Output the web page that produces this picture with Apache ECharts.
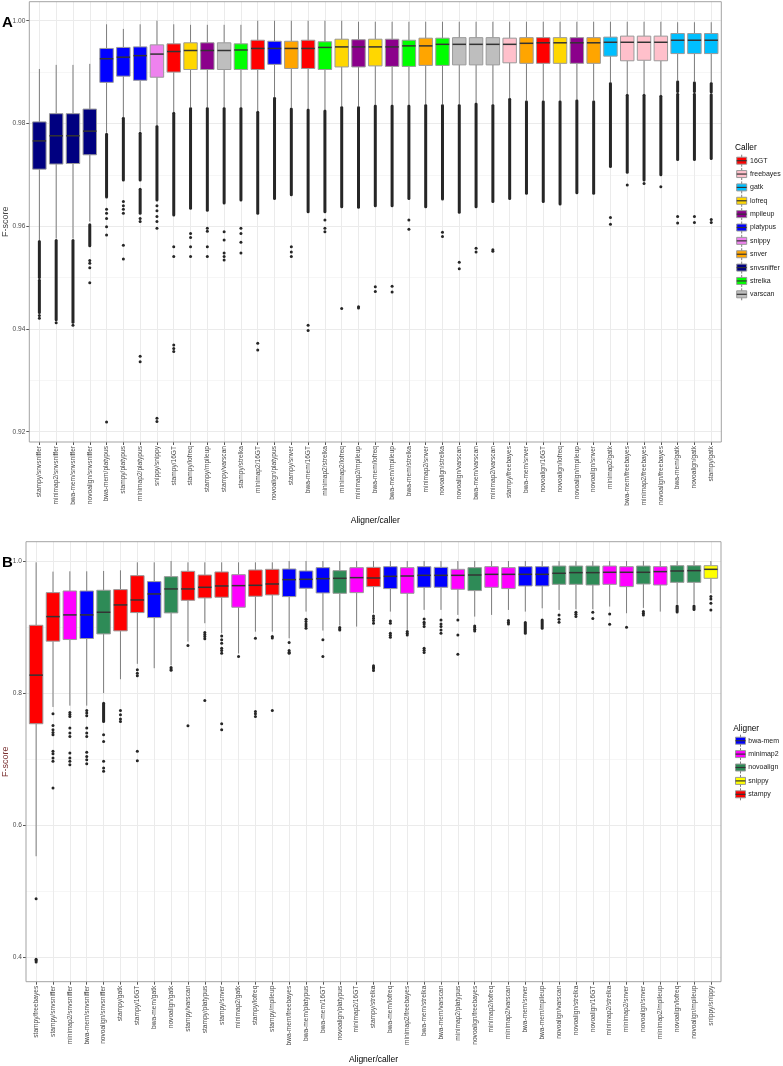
<!DOCTYPE html>
<html><head><meta charset="utf-8">
<script src="https://cdn.jsdelivr.net/npm/echarts@6/dist/echarts.min.js"></script>
<style>html,body{margin:0;padding:0;background:#fff}#c{width:783px;height:1066px}</style>
</head><body><div id="c"></div>
<script>
// ---------------- Panel A data ----------------
const catsA = ['stampy/snvsniffer','minimap2/snvsniffer','bwa-mem/snvsniffer','novoalign/snvsniffer','bwa-mem/platypus','stampy/platypus','minimap2/platypus','snippy/snippy','stampy/16GT','stampy/lofreq','stampy/mpileup','stampy/varscan','stampy/strelka','minimap2/16GT','novoalign/platypus','stampy/snver','bwa-mem/16GT','minimap2/strelka','minimap2/lofreq','minimap2/mpileup','bwa-mem/lofreq','bwa-mem/mpileup','bwa-mem/strelka','minimap2/snver','novoalign/strelka','novoalign/varscan','bwa-mem/varscan','minimap2/varscan','stampy/freebayes','bwa-mem/snver','novoalign/16GT','novoalign/lofreq','novoalign/mpileup','novoalign/snver','minimap2/gatk','bwa-mem/freebayes','minimap2/freebayes','novoalign/freebayes','bwa-mem/gatk','novoalign/gatk','stampy/gatk'];
const lowA  = [0.9573,0.9576,0.9576,0.9609,0.9782,0.9812,0.9784,0.9796,0.9822,0.9831,0.9831,0.9831,0.9831,0.9824,0.9851,0.9830,0.9828,0.9826,0.9833,0.9833,0.9836,0.9836,0.9836,0.9837,0.9837,0.9837,0.9840,0.9837,0.9849,0.9844,0.9844,0.9844,0.9846,0.9844,0.9880,0.9857,0.9857,0.9855,0.9883,0.9881,0.9880];
const q1A   = [0.9711,0.9721,0.9722,0.9739,0.9880,0.9892,0.9884,0.9890,0.9900,0.9905,0.9905,0.9905,0.9905,0.9905,0.9915,0.9907,0.9907,0.9905,0.9910,0.9910,0.9912,0.9911,0.9911,0.9913,0.9913,0.9914,0.9914,0.9914,0.9918,0.9917,0.9917,0.9917,0.9917,0.9917,0.9931,0.9922,0.9923,0.9922,0.9936,0.9936,0.9936];
const medA  = [0.9766,0.9776,0.9776,0.9785,0.9926,0.9929,0.9932,0.9935,0.9940,0.9942,0.9942,0.9942,0.9943,0.9946,0.9946,0.9946,0.9946,0.9948,0.9949,0.9949,0.9949,0.9949,0.9951,0.9951,0.9954,0.9954,0.9954,0.9954,0.9954,0.9956,0.9957,0.9957,0.9957,0.9957,0.9958,0.9958,0.9958,0.9958,0.9962,0.9962,0.9962];
const q3A   = [0.9803,0.9819,0.9819,0.9828,0.9946,0.9948,0.9949,0.9953,0.9955,0.9957,0.9957,0.9957,0.9955,0.9962,0.9960,0.9960,0.9962,0.9959,0.9964,0.9963,0.9964,0.9964,0.9962,0.9966,0.9966,0.9967,0.9967,0.9967,0.9966,0.9967,0.9967,0.9967,0.9967,0.9967,0.9968,0.9970,0.9970,0.9970,0.9975,0.9975,0.9975];
const highA = [0.9906,0.9914,0.9914,0.9916,0.9993,0.9984,0.9993,1.0000,0.9993,0.9992,0.9992,0.9992,0.9992,1.0000,1.0000,1.0000,1.0000,1.0000,1.0000,0.9998,0.9998,0.9998,0.9998,0.9998,0.9998,0.9998,0.9998,0.9998,0.9998,0.9998,0.9998,0.9998,0.9998,0.9998,0.9998,0.9998,0.9998,0.9998,0.9997,0.9997,0.9997];
// dense outlier columns: [category, from, to]
const runsA = [
['stampy/snvsniffer',0.9500,0.9570],['stampy/snvsniffer',0.9432,0.9495],
['minimap2/snvsniffer',0.9418,0.9572],['bwa-mem/snvsniffer',0.9413,0.9572],
['novoalign/snvsniffer',0.9562,0.9603],['bwa-mem/platypus',0.9657,0.9779],
['stampy/platypus',0.9690,0.9810],['minimap2/platypus',0.9690,0.9781],['minimap2/platypus',0.9625,0.9672],
['snippy/snippy',0.9651,0.9794],['stampy/16GT',0.9622,0.9820],['stampy/lofreq',0.9635,0.9829],
['stampy/mpileup',0.9631,0.9829],['stampy/varscan',0.9645,0.9829],['stampy/strelka',0.9651,0.9829],
['minimap2/16GT',0.9625,0.9822],['novoalign/platypus',0.9654,0.9849],['stampy/snver',0.9661,0.9828],
['bwa-mem/16GT',0.9628,0.9826],['minimap2/strelka',0.9628,0.9824],['minimap2/lofreq',0.9638,0.9831],
['minimap2/mpileup',0.9637,0.9831],['bwa-mem/lofreq',0.9640,0.9834],['bwa-mem/mpileup',0.9640,0.9834],
['bwa-mem/strelka',0.9654,0.9834],['minimap2/snver',0.9638,0.9835],['novoalign/strelka',0.9653,0.9835],
['novoalign/varscan',0.9627,0.9835],['bwa-mem/varscan',0.9638,0.9838],['minimap2/varscan',0.9648,0.9835],
['stampy/freebayes',0.9654,0.9847],['bwa-mem/snver',0.9664,0.9842],['novoalign/16GT',0.9648,0.9842],
['novoalign/lofreq',0.9643,0.9842],['novoalign/mpileup',0.9665,0.9844],['novoalign/snver',0.9664,0.9842],
['minimap2/gatk',0.9716,0.9878],['bwa-mem/freebayes',0.9705,0.9855],['minimap2/freebayes',0.9690,0.9855],
['novoalign/freebayes',0.9700,0.9853],['bwa-mem/gatk',0.9730,0.9857],['bwa-mem/gatk',0.9862,0.9881],
['novoalign/gatk',0.9730,0.9857],['novoalign/gatk',0.9862,0.9879],['stampy/gatk',0.9732,0.9856],['stampy/gatk',0.9861,0.9878]
];
// single outliers: [category, value]
const ptsA = [
['stampy/snvsniffer',0.9421],['stampy/snvsniffer',0.9426],['minimap2/snvsniffer',0.9412],['bwa-mem/snvsniffer',0.9407],
['novoalign/snvsniffer',0.9533],['novoalign/snvsniffer',0.9528],['novoalign/snvsniffer',0.9519],['novoalign/snvsniffer',0.9490],
['bwa-mem/platypus',0.9633],['bwa-mem/platypus',0.9625],['bwa-mem/platypus',0.9615],['bwa-mem/platypus',0.9599],['bwa-mem/platypus',0.9583],['bwa-mem/platypus',0.9219],
['stampy/platypus',0.9648],['stampy/platypus',0.9640],['stampy/platypus',0.9633],['stampy/platypus',0.9625],['stampy/platypus',0.9563],['stampy/platypus',0.9536],
['minimap2/platypus',0.9615],['minimap2/platypus',0.9609],['minimap2/platypus',0.9347],['minimap2/platypus',0.9336],
['snippy/snippy',0.9640],['snippy/snippy',0.9630],['snippy/snippy',0.9619],['snippy/snippy',0.9609],['snippy/snippy',0.9596],['snippy/snippy',0.9226],['snippy/snippy',0.9220],
['stampy/16GT',0.9560],['stampy/16GT',0.9541],['stampy/16GT',0.9369],['stampy/16GT',0.9362],['stampy/16GT',0.9356],
['stampy/lofreq',0.9586],['stampy/lofreq',0.9578],['stampy/lofreq',0.9560],['stampy/lofreq',0.9541],
['stampy/mpileup',0.9596],['stampy/mpileup',0.9590],['stampy/mpileup',0.9560],['stampy/mpileup',0.9541],
['stampy/varscan',0.9589],['stampy/varscan',0.9573],['stampy/varscan',0.9548],['stampy/varscan',0.9541],['stampy/varscan',0.9534],
['stampy/strelka',0.9596],['stampy/strelka',0.9586],['stampy/strelka',0.9569],['stampy/strelka',0.9548],
['minimap2/16GT',0.9372],['minimap2/16GT',0.9359],
['stampy/snver',0.9560],['stampy/snver',0.9550],['stampy/snver',0.9541],
['bwa-mem/16GT',0.9407],['bwa-mem/16GT',0.9397],
['minimap2/strelka',0.9612],['minimap2/strelka',0.9596],['minimap2/strelka',0.9589],
['minimap2/lofreq',0.9440],['minimap2/mpileup',0.9443],['minimap2/mpileup',0.9441],
['bwa-mem/lofreq',0.9482],['bwa-mem/lofreq',0.9473],['bwa-mem/mpileup',0.9483],['bwa-mem/mpileup',0.9472],
['bwa-mem/strelka',0.9612],['bwa-mem/strelka',0.9594],['novoalign/strelka',0.9588],['novoalign/strelka',0.9580],
['novoalign/varscan',0.9530],['novoalign/varscan',0.9517],['bwa-mem/varscan',0.9557],['bwa-mem/varscan',0.9550],
['minimap2/varscan',0.9554],['minimap2/varscan',0.9551],['minimap2/gatk',0.9617],['minimap2/gatk',0.9604],
['bwa-mem/freebayes',0.9680],['minimap2/freebayes',0.9683],['novoalign/freebayes',0.9677],
['bwa-mem/gatk',0.9619],['bwa-mem/gatk',0.9606],['novoalign/gatk',0.9619],['novoalign/gatk',0.9607],
['stampy/gatk',0.9613],['stampy/gatk',0.9607]
];
const callers = ['16GT','freebayes','gatk','lofreq','mpileup','platypus','snippy','snver','snvsniffer','strelka','varscan'];
const callerColors = ['#FF0000','#FFC0CB','#00BFFF','#FFD700','#8B008B','#0000FF','#EE82EE','#FFA500','#000080','#00FF00','#BEBEBE'];
const yTicksA = {min:0.92, max:1.00, step:0.02};

// ---------------- Panel B data ----------------
const catsB = ['stampy/freebayes','stampy/snvsniffer','minimap2/snvsniffer','bwa-mem/snvsniffer','novoalign/snvsniffer','stampy/gatk','stampy/16GT','bwa-mem/gatk','novoalign/gatk','stampy/varscan','stampy/platypus','stampy/snver','minimap2/gatk','stampy/lofreq','stampy/mpileup','bwa-mem/freebayes','bwa-mem/platypus','bwa-mem/16GT','novoalign/platypus','minimap2/16GT','stampy/strelka','bwa-mem/lofreq','minimap2/freebayes','bwa-mem/strelka','bwa-mem/varscan','minimap2/platypus','novoalign/freebayes','minimap2/lofreq','minimap2/varscan','bwa-mem/snver','bwa-mem/mpileup','novoalign/varscan','novoalign/strelka','novoalign/16GT','minimap2/strelka','minimap2/snver','novoalign/snver','minimap2/mpileup','novoalign/lofreq','novoalign/mpileup','snippy/snippy'];
const lowB  = [0.553,0.779,0.781,0.781,0.800,0.821,0.8443,0.8377,0.8420,0.878,0.9058,0.8907,0.8600,0.8930,0.8930,0.8830,0.9234,0.8947,0.9022,0.9007,0.9209,0.9234,0.8957,0.9260,0.9260,0.9184,0.9158,0.9184,0.9259,0.9234,0.9284,0.9259,0.9269,0.9269,0.9310,0.9209,0.9290,0.9234,0.9350,0.9350,0.9511];
const q1B   = [0.7536,0.8786,0.8811,0.8826,0.8896,0.8942,0.9219,0.9143,0.9214,0.9405,0.9441,0.9451,0.9300,0.9466,0.9486,0.9461,0.9587,0.9516,0.9511,0.9521,0.9612,0.9582,0.9511,0.9602,0.9602,0.9572,0.9552,0.9602,0.9582,0.9622,0.9622,0.9647,0.9647,0.9637,0.9647,0.9612,0.9652,0.9637,0.9677,0.9677,0.9738];
const medB  = [0.8272,0.9158,0.9184,0.9184,0.9224,0.9335,0.9410,0.9501,0.9577,0.9577,0.9602,0.9622,0.9627,0.9632,0.9652,0.9718,0.9723,0.9733,0.9738,0.9748,0.9743,0.9768,0.9773,0.9783,0.9783,0.9783,0.9788,0.9798,0.9798,0.9798,0.9798,0.9814,0.9824,0.9824,0.9829,0.9829,0.9829,0.9839,0.9849,0.9854,0.9874];
const q3B   = [0.9027,0.9521,0.9546,0.9546,0.9557,0.9567,0.9778,0.9688,0.9763,0.9844,0.9788,0.9834,0.9793,0.9864,0.9874,0.9879,0.9849,0.9899,0.9854,0.9899,0.9904,0.9914,0.9899,0.9914,0.9904,0.9874,0.9899,0.9914,0.9899,0.9914,0.9914,0.9924,0.9924,0.9924,0.9924,0.9914,0.9924,0.9914,0.9929,0.9929,0.9929];
const highB = [0.998,0.9839,0.9844,0.9844,0.9849,0.9859,0.998,0.998,1.0,0.998,0.998,0.998,0.998,0.998,0.998,1.0,1.0,1.0,1.0,1.0,1.0,1.0,1.0,1.0,1.0,1.0,1.0,1.0,1.0,1.0,1.0,1.0,1.0,1.0,1.0,1.0,1.0,1.0,1.0,1.0,1.0];
const runsB = [
['novoalign/snvsniffer',0.7571,0.7848],['bwa-mem/snver',0.8907,0.9068],['bwa-mem/mpileup',0.8982,0.9108],
['novoalign/lofreq',0.9229,0.9320],['novoalign/mpileup',0.9264,0.9320]
];
const ptsB = [
['stampy/freebayes',0.4886],['stampy/freebayes',0.3970],['stampy/freebayes',0.3950],['stampy/freebayes',0.3930],
['stampy/snvsniffer',0.7687],['stampy/snvsniffer',0.7511],['stampy/snvsniffer',0.7446],['stampy/snvsniffer',0.7405],['stampy/snvsniffer',0.7370],['stampy/snvsniffer',0.7118],['stampy/snvsniffer',0.7083],['stampy/snvsniffer',0.7017],['stampy/snvsniffer',0.6967],['stampy/snvsniffer',0.6563],
['minimap2/snvsniffer',0.7707],['minimap2/snvsniffer',0.7677],['minimap2/snvsniffer',0.7647],['minimap2/snvsniffer',0.7470],['minimap2/snvsniffer',0.7395],['minimap2/snvsniffer',0.7344],['minimap2/snvsniffer',0.7093],['minimap2/snvsniffer',0.7017],['minimap2/snvsniffer',0.6967],['minimap2/snvsniffer',0.6916],
['bwa-mem/snvsniffer',0.7737],['bwa-mem/snvsniffer',0.7697],['bwa-mem/snvsniffer',0.7657],['bwa-mem/snvsniffer',0.7470],['bwa-mem/snvsniffer',0.7395],['bwa-mem/snvsniffer',0.7344],['bwa-mem/snvsniffer',0.7103],['bwa-mem/snvsniffer',0.7042],['bwa-mem/snvsniffer',0.6992],['bwa-mem/snvsniffer',0.6931],
['novoalign/snvsniffer',0.7370],['novoalign/snvsniffer',0.7269],['novoalign/snvsniffer',0.6967],['novoalign/snvsniffer',0.6866],['novoalign/snvsniffer',0.6815],
['stampy/gatk',0.7737],['stampy/gatk',0.7672],['stampy/gatk',0.7606],['stampy/gatk',0.7571],
['stampy/16GT',0.8352],['stampy/16GT',0.8302],['stampy/16GT',0.8262],['stampy/16GT',0.7118],['stampy/16GT',0.6977],
['novoalign/gatk',0.8388],['novoalign/gatk',0.8365],['novoalign/gatk',0.8345],
['stampy/varscan',0.8720],['stampy/varscan',0.7506],
['stampy/platypus',0.8917],['stampy/platypus',0.8887],['stampy/platypus',0.8856],['stampy/platypus',0.8821],['stampy/platypus',0.7889],
['stampy/snver',0.8866],['stampy/snver',0.8806],['stampy/snver',0.8755],['stampy/snver',0.8680],['stampy/snver',0.8645],['stampy/snver',0.8604],['stampy/snver',0.7536],['stampy/snver',0.7446],
['minimap2/gatk',0.8554],
['stampy/lofreq',0.8831],['stampy/lofreq',0.7722],['stampy/lofreq',0.7687],['stampy/lofreq',0.7647],
['stampy/mpileup',0.8856],['stampy/mpileup',0.8836],['stampy/mpileup',0.7737],
['bwa-mem/freebayes',0.8765],['bwa-mem/freebayes',0.8645],['bwa-mem/freebayes',0.8620],['bwa-mem/freebayes',0.8604],
['bwa-mem/platypus',0.9118],['bwa-mem/platypus',0.9083],['bwa-mem/platypus',0.9048],['bwa-mem/platypus',0.9017],['bwa-mem/platypus',0.8982],
['bwa-mem/16GT',0.8806],['bwa-mem/16GT',0.8554],
['novoalign/platypus',0.8992],['novoalign/platypus',0.8972],['novoalign/platypus',0.8957],
['stampy/strelka',0.9169],['stampy/strelka',0.9133],['stampy/strelka',0.9098],['stampy/strelka',0.9058],['stampy/strelka',0.8413],['stampy/strelka',0.8393],['stampy/strelka',0.8372],['stampy/strelka',0.8342],
['bwa-mem/lofreq',0.9093],['bwa-mem/lofreq',0.9058],['bwa-mem/lofreq',0.8907],['bwa-mem/lofreq',0.8876],['bwa-mem/lofreq',0.8846],
['minimap2/freebayes',0.8932],['minimap2/freebayes',0.8907],['minimap2/freebayes',0.8881],
['bwa-mem/strelka',0.9123],['bwa-mem/strelka',0.9073],['bwa-mem/strelka',0.9048],['bwa-mem/strelka',0.9007],['bwa-mem/strelka',0.8680],['bwa-mem/strelka',0.8650],['bwa-mem/strelka',0.8614],
['bwa-mem/varscan',0.9108],['bwa-mem/varscan',0.9048],['bwa-mem/varscan',0.9007],['bwa-mem/varscan',0.8957],['bwa-mem/varscan',0.8907],
['minimap2/platypus',0.9108],['minimap2/platypus',0.8881],['minimap2/platypus',0.8589],
['novoalign/freebayes',0.9017],['novoalign/freebayes',0.8992],['novoalign/freebayes',0.8967],['novoalign/freebayes',0.8942],
['minimap2/varscan',0.9098],['minimap2/varscan',0.9073],['minimap2/varscan',0.9048],
['novoalign/varscan',0.9184],['novoalign/varscan',0.9118],['novoalign/varscan',0.9073],
['novoalign/strelka',0.9224],['novoalign/strelka',0.9194],['novoalign/strelka',0.9158],
['novoalign/16GT',0.9224],['novoalign/16GT',0.9128],
['minimap2/strelka',0.9199],['minimap2/strelka',0.9043],
['minimap2/snver',0.8997],
['novoalign/snver',0.9234],['novoalign/snver',0.9209],['novoalign/snver',0.9184],
['snippy/snippy',0.9461],['snippy/snippy',0.9426],['snippy/snippy',0.9360],['snippy/snippy',0.9259]
];
const aligners = ['bwa-mem','minimap2','novoalign','snippy','stampy'];
const alignerColors = ['#0000FF','#FF00FF','#2E8B57','#FFFF00','#FF0000'];
const yTicksB = {min:0.4, max:1.0, step:0.2};

// ---------------- layout / style ----------------
const FONT = '"Liberation Sans", Arial, sans-serif';
const PA = {L:29.3, R:721.3, T:1.7, B:442, yTop:20.7, yBot:431.7, ticks:yTicksA, dec:2};
const PB = {L:26, R:721, T:541.7, B:981.7, yTop:561, yBot:957.3, ticks:yTicksB, dec:1};
const BOX_STROKE = '#9a9a9a', WHISKER = '#7d7d7d', MEDIAN = '#333333', DOT = '#262626';

function layout(P){
  const band = (P.R - P.L) / 41.2;
  const span = P.ticks.max - P.ticks.min, px = P.yBot - P.yTop;
  return {
    gx: {left: P.L + 0.6 * band, width: 40 * band, top: P.T, height: P.B - P.T},
    gy: {left: P.L, width: P.R - P.L, top: P.yTop, height: px},
    yMin: P.ticks.min - (P.B - P.yBot) / px * span,
    yMax: P.ticks.max + (P.yTop - P.T) / px * span
  };
}
const LA = layout(PA), LB = layout(PB);

function boxData(cats, low, q1, med, q3, high){
  return cats.map((c, i) => [i, low[i], q1[i], med[i], q3[i], high[i]]);
}
function renderBox(colors){
  return function(params, api){
    const i = api.value(0);
    const pLow = api.coord([i, api.value(1)]), pQ1 = api.coord([i, api.value(2)]);
    const pMed = api.coord([i, api.value(3)]), pQ3 = api.coord([i, api.value(4)]);
    const pHigh = api.coord([i, api.value(5)]);
    const bw = api.size([1, 0])[0] * 0.8, x = pLow[0];
    return {type:'group', children:[
      {type:'line', shape:{x1:x, y1:pHigh[1], x2:x, y2:pQ3[1]}, style:{stroke:WHISKER, lineWidth:1}},
      {type:'line', shape:{x1:x, y1:pQ1[1], x2:x, y2:pLow[1]}, style:{stroke:WHISKER, lineWidth:1}},
      {type:'rect', shape:{x:x - bw/2, y:pQ3[1], width:bw, height:pQ1[1] - pQ3[1]}, style:{fill:colors[params.dataIndex], stroke:BOX_STROKE, lineWidth:1}},
      {type:'line', shape:{x1:x - bw/2, y1:pMed[1], x2:x + bw/2, y2:pMed[1]}, style:{stroke:MEDIAN, lineWidth:1.5}}
    ]};
  };
}
function renderRun(params, api){
  const a = api.coord([api.value(0), api.value(1)]), b = api.coord([api.value(0), api.value(2)]);
  return {type:'line', shape:{x1:a[0], y1:a[1], x2:b[0], y2:b[1]}, style:{stroke:DOT, lineWidth:3, lineCap:'round'}};
}
function renderPt(params, api){
  const a = api.coord([api.value(0), api.value(1)]);
  return {type:'circle', shape:{cx:a[0], cy:a[1], r:1.5}, style:{fill:DOT}};
}
const idx = (cats, arr) => arr.map(r => [cats.indexOf(r[0])].concat(r.slice(1)));
const colorsA = catsA.map(c => callerColors[callers.indexOf(c.split('/')[1])]);
const colorsB = catsB.map(c => alignerColors[aligners.indexOf(c.split('/')[0])]);

function catAxis(gi, cats){
  return {type:'category', gridIndex:gi, data:cats, boundaryGap:false,
    axisLine:{show:false},
    axisTick:{show:true, length:3, interval:0, lineStyle:{color:'#555', width:1}},
    axisLabel:{rotate:90, interval:0, fontSize:6.6, color:'#4d4d4d', margin:4, fontFamily:FONT},
    splitLine:{show:true, interval:0, lineStyle:{color:'#ebebeb', width:1}}};
}
function valAxis(gi, P){
  return {type:'value', gridIndex:gi, min:P.ticks.min, max:P.ticks.max, interval:P.ticks.step,
    axisLine:{show:false},
    axisTick:{show:true, length:3, lineStyle:{color:'#555', width:1}},
    axisLabel:{fontSize:6.6, color:'#4d4d4d', margin:4, fontFamily:FONT, formatter:v => v.toFixed(P.dec)},
    splitLine:{show:true, lineStyle:{color:'#ebebeb', width:1}},
    minorTick:{show:false, splitNumber:2},
    minorSplitLine:{show:true, lineStyle:{color:'#f4f4f4', width:0.8}}};
}
const hiddenX = gi => ({type:'value', gridIndex:gi, min:0, max:1, show:false});
const hiddenY = (gi, L) => ({type:'value', gridIndex:gi, min:L.yMin, max:L.yMax, show:false});

function legendGraphic(title, names, colors, P){
  const els = [{type:'text', x:P.tx, y:P.ty, style:{text:title, font:'8.3px ' + FONT, fill:'#000', align:'left', verticalAlign:'middle'}}];
  names.forEach((n, i) => {
    const cy = P.y0 + i * P.dy, cx = P.kx + 5;
    els.push({type:'line', shape:{x1:cx, y1:cy - 6, x2:cx, y2:cy + 6}, style:{stroke:WHISKER, lineWidth:1}});
    els.push({type:'rect', shape:{x:P.kx, y:cy - 3.5, width:10, height:7}, style:{fill:colors[i], stroke:BOX_STROKE, lineWidth:1}});
    els.push({type:'line', shape:{x1:P.kx, y1:cy, x2:P.kx + 10, y2:cy}, style:{stroke:MEDIAN, lineWidth:1.2}});
    els.push({type:'text', x:P.lx, y:cy, style:{text:n, font:'7px ' + FONT, fill:'#1a1a1a', align:'left', verticalAlign:'middle'}});
  });
  return els;
}
function frame(P){
  return {type:'rect', z:50, shape:{x:P.L, y:P.T, width:P.R - P.L, height:P.B - P.T}, style:{fill:'none', stroke:'#a3a3a3', lineWidth:1}};
}
const graphics = [
  frame(PA), frame(PB),
  {type:'text', x:2, y:15, style:{text:'A', font:'bold 15px ' + FONT, fill:'#000', align:'left', verticalAlign:'alphabetic'}},
  {type:'text', x:2, y:555, style:{text:'B', font:'bold 15px ' + FONT, fill:'#000', align:'left', verticalAlign:'alphabetic'}},
  {type:'text', x:6, y:(PA.T + PA.B) / 2, rotation:Math.PI / 2, style:{text:'F-score', font:'9px ' + FONT, fill:'#444', align:'center', verticalAlign:'middle'}},
  {type:'text', x:6, y:(PB.T + PB.B) / 2, rotation:Math.PI / 2, style:{text:'F-score', font:'9px ' + FONT, fill:'#7a3030', align:'center', verticalAlign:'middle'}},
  {type:'text', x:(PA.L + PA.R) / 2, y:520.5, style:{text:'Aligner/caller', font:'8.5px ' + FONT, fill:'#000', align:'center', verticalAlign:'middle'}},
  {type:'text', x:(PB.L + PB.R) / 2, y:1059.5, style:{text:'Aligner/caller', font:'8.5px ' + FONT, fill:'#000', align:'center', verticalAlign:'middle'}}
].concat(
  legendGraphic('Caller', callers, callerColors, {tx:735, ty:147.7, y0:160.7, dy:13.36, kx:736.7, lx:750}),
  legendGraphic('Aligner', aligners, alignerColors, {tx:733.3, ty:728.3, y0:740.7, dy:13.4, kx:735.5, lx:748.3})
);

const chart = echarts.init(document.getElementById('c'), null, {renderer:'canvas'});
chart.setOption({
  animation:false,
  backgroundColor:'#ffffff',
  textStyle:{fontFamily:FONT},
  grid:[
    Object.assign({outerBoundsMode:'none'}, LA.gx),
    Object.assign({outerBoundsMode:'none'}, LA.gy),
    Object.assign({outerBoundsMode:'none'}, LB.gx),
    Object.assign({outerBoundsMode:'none'}, LB.gy)
  ],
  xAxis:[catAxis(0, catsA), hiddenX(1), catAxis(2, catsB), hiddenX(3)],
  yAxis:[hiddenY(0, LA), valAxis(1, PA), hiddenY(2, LB), valAxis(3, PB)],
  series:[
    {type:'custom', xAxisIndex:0, yAxisIndex:0, renderItem:renderRun, data:idx(catsA, runsA), z:2, silent:true},
    {type:'custom', xAxisIndex:0, yAxisIndex:0, renderItem:renderPt, data:idx(catsA, ptsA), z:2, silent:true},
    {type:'custom', xAxisIndex:0, yAxisIndex:0, renderItem:renderBox(colorsA), data:boxData(catsA, lowA, q1A, medA, q3A, highA), z:3, silent:true},
    {type:'custom', xAxisIndex:2, yAxisIndex:2, renderItem:renderRun, data:idx(catsB, runsB), z:2, silent:true},
    {type:'custom', xAxisIndex:2, yAxisIndex:2, renderItem:renderPt, data:idx(catsB, ptsB), z:2, silent:true},
    {type:'custom', xAxisIndex:2, yAxisIndex:2, renderItem:renderBox(colorsB), data:boxData(catsB, lowB, q1B, medB, q3B, highB), z:3, silent:true}
  ],
  graphic:{elements:graphics}
});
</script>
</body></html>
